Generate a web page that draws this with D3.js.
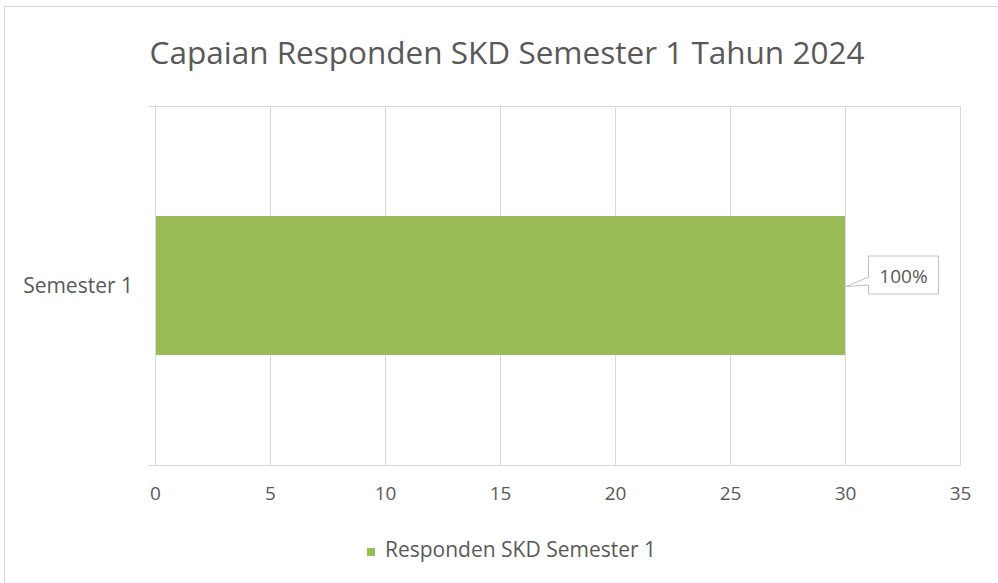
<!DOCTYPE html>
<html>
<head>
<meta charset="utf-8">
<script src="https://cdn.jsdelivr.net/npm/d3@7"></script>
<style>
  body { margin: 0; background: #fff; }
  text { font-family: "Open Sans", sans-serif; fill: #595959; }
</style>
</head>
<body>
<div id="viz"></div>
<script>
const categories = ['Semester 1'];
const values = [30];
const labels = ['100%'];
const xTicks = [0, 5, 10, 15, 20, 25, 30, 35];
const seriesName = 'Responden SKD Semester 1';

const width = 998;
const height = 583;
const plotLeft = 155, plotRight = 960, plotTop = 106, plotBottom = 465;

const svg = d3.select('#viz')
      .append('svg')
      .attr('width', width)
      .attr('height', height);

// chart border
svg.append('rect')
    .attr('x', 4.5).attr('y', 6.5)
    .attr('width', 1000).attr('height', 600)
    .attr('fill', 'none')
    .attr('stroke', '#d9d9d9');

svg.append('text')
    .attr('x', 507).attr('y', 64)
    .attr('text-anchor', 'middle')
    .attr('font-size', 31.5)
    .text('Capaian Responden SKD Semester 1 Tahun 2024');

const x = d3.scaleLinear().domain([0, 35]).range([plotLeft, plotRight]);
const y = d3.scaleBand().domain(categories).range([plotTop, plotBottom]).paddingInner(0.6).paddingOuter(0.3165);

// vertical gridlines
svg.append('g')
    .selectAll('line')
    .data(xTicks.slice(1))
    .join('line')
    .attr('x1', d => x(d) + 0.5).attr('x2', d => x(d) + 0.5)
    .attr('y1', plotTop).attr('y2', plotBottom)
    .attr('stroke', '#d9d9d9');

// top and bottom category lines
svg.append('g')
    .selectAll('line')
    .data([plotTop, plotBottom])
    .join('line')
    .attr('x1', plotLeft - 7).attr('x2', plotRight + 1)
    .attr('y1', d => d + 0.5).attr('y2', d => d + 0.5)
    .attr('stroke', '#d9d9d9');

// value axis (left)
svg.append('line')
    .attr('x1', plotLeft + 0.5).attr('x2', plotLeft + 0.5)
    .attr('y1', plotTop).attr('y2', plotBottom)
    .attr('stroke', '#d9d9d9');

// x tick labels
const xAxis = svg.append('g')
    .attr('transform', `translate(0 ${plotBottom})`)
    .call(d3.axisBottom(x).tickValues(xTicks).tickSize(0).tickPadding(22));
xAxis.select('.domain').remove();
xAxis.selectAll('text')
    .attr('font-size', 19)
    .attr('font-family', '"Open Sans", sans-serif')
    .attr('fill', '#595959');

// category labels
svg.append('g')
    .selectAll('text')
    .data(categories)
    .join('text')
    .attr('x', 133)
    .attr('y', d => y(d) + y.bandwidth() / 2 + 7)
    .attr('text-anchor', 'end')
    .attr('font-size', 21)
    .text(d => d);

// bars
svg.append('g')
    .selectAll('rect')
    .data(values)
    .join('rect')
    .attr('x', x(0) + 1)
    .attr('y', (d, i) => y(categories[i]))
    .attr('width', d => x(d) - x(0) - 1)
    .attr('height', y.bandwidth())
    .attr('fill', '#9bbb59');

// data label callouts
const callout = svg.append('g')
    .selectAll('g')
    .data(values)
    .join('g');

callout.append('path')
    .attr('d', (d, i) => {
      const bx = x(d), by = y(categories[i]) + y.bandwidth() / 2;
      const l = bx + 23.5, t = by - 29.5, r = bx + 93.5, b = by + 8.5;
      return `M${bx + 1},${by + 1} L${l},${by - 8.5} L${l},${t} L${r},${t} L${r},${b} L${l},${b} L${l},${by - 0.5} Z`;
    })
    .attr('fill', '#fff')
    .attr('stroke', '#bfbfbf');

callout.append('text')
    .attr('x', (d) => x(d) + 58.5)
    .attr('y', (d, i) => y(categories[i]) + y.bandwidth() / 2 - 2.5)
    .attr('text-anchor', 'middle')
    .attr('font-size', 19)
    .text((d, i) => labels[i]);

// legend
const legend = svg.append('g').attr('transform', 'translate(367 548)');
legend.append('rect')
    .attr('x', 0).attr('y', 0)
    .attr('width', 8).attr('height', 8)
    .attr('fill', '#9bbb59');
legend.append('text')
    .attr('x', 18).attr('y', 9)
    .attr('font-size', 21)
    .text(seriesName);
</script>
</body>
</html>
